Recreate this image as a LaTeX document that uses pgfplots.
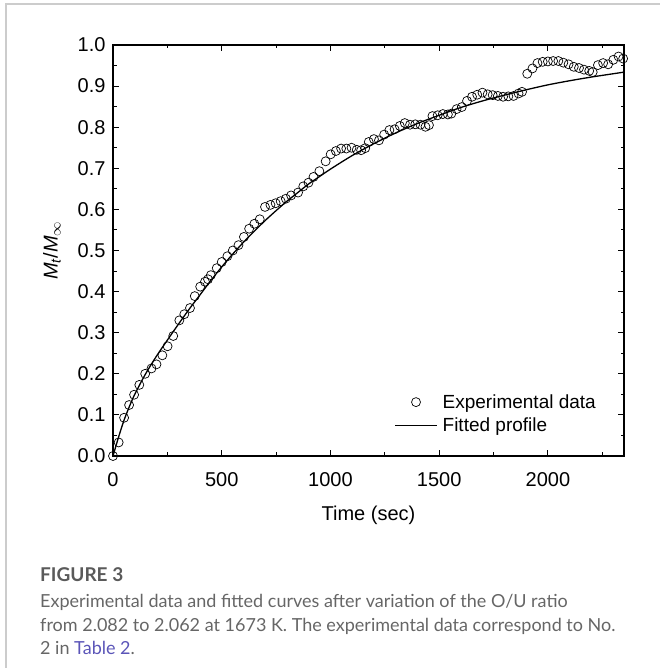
\documentclass[border=0pt]{standalone}
\usepackage{pgfplots}
\pgfplotsset{compat=1.18}
\usepackage{fontspec}
\setmainfont{Liberation Sans}
\newfontfamily\capfont{Lato}
\definecolor{capgray}{HTML}{666666}
\definecolor{capdark}{HTML}{5A5A5A}
\definecolor{linkblue}{HTML}{5B55B8}
\definecolor{framegray}{HTML}{CCCCCC}
\pgfplotsset{
  circlegend/.style={legend image code/.code={\draw[mark repeat=2,mark phase=2,##1] plot coordinates {(0pt,0pt)(21pt,0pt)(42pt,0pt)};}},
  linelegend/.style={legend image code/.code={\draw[##1] (0pt,0pt) -- (42pt,0pt);}},
}
\begin{document}
\begin{tikzpicture}[x=1pt,y=1pt]
\path[use as bounding box] (0,0) rectangle (660,668);
\draw[framegray, line width=1.2pt] (6,0) -- (6,664) -- (660,664);
\begin{axis}[
  at={(113pt,212pt)}, anchor=south west,
  scale only axis, width=511pt, height=411pt,
  xmin=0, xmax=2350, ymin=0, ymax=1.0,
  xtick={0,500,1000,1500,2000},
  minor xtick={250,750,1250,1750,2250},
  ytick={0,0.1,0.2,0.3,0.4,0.5,0.6,0.7,0.8,0.9,1.0},
  minor ytick={0.05,0.15,0.25,0.35,0.45,0.55,0.65,0.75,0.85,0.95},
  tick align=inside,
  major tick length=6pt, minor tick length=3.5pt,
  every tick/.style={black, line width=1pt},
  axis line style={line width=1.2pt},
  /pgf/number format/assume math mode=true,
  yticklabel style={/pgf/number format/fixed, /pgf/number format/fixed zerofill, /pgf/number format/precision=1, xshift=-4pt},
  xticklabel style={/pgf/number format/1000 sep={}, yshift=-13pt},
  ticklabel style={font=\fontsize{20}{24}\selectfont},
  label style={font=\fontsize{20}{24}\selectfont},
  xlabel={Time (sec)},
  ylabel={\textit{M}\textsubscript{\textit{t}}/\textit{M}\textsubscript{$\infty$}},
  xlabel style={yshift=-12pt},
  ylabel style={yshift=10pt},
  legend style={draw=none, fill=none, at={(0.955,0.155)}, anchor=north east,
    font=\fontsize{19}{23}\selectfont, row sep=4pt, inner sep=0pt,
    nodes={inner xsep=5pt}},
  legend cell align=left,
  clip=true,
]
\addplot[only marks, mark=o, mark size=4.5pt, black, line width=0.7pt, circlegend]
  table[row sep=\\] {
t v\\
0 0.0\\
26 0.033\\
51 0.093\\
74 0.124\\
97 0.149\\
121 0.173\\
148 0.200\\
177 0.213\\
200 0.223\\
227 0.245\\
251 0.267\\
277 0.292\\
305 0.330\\
328 0.345\\
354 0.360\\
376 0.389\\
401 0.412\\
423 0.424\\
437 0.430\\
450 0.440\\
477 0.457\\
500 0.472\\
526 0.486\\
551 0.500\\
577 0.513\\
602 0.533\\
626 0.553\\
650 0.565\\
675 0.576\\
699 0.606\\
724 0.611\\
748 0.615\\
771 0.620\\
795 0.626\\
819 0.634\\
851 0.641\\
875 0.656\\
899 0.665\\
922 0.679\\
949 0.693\\
978 0.717\\
1001 0.734\\
1025 0.742\\
1049 0.748\\
1073 0.748\\
1097 0.750\\
1121 0.745\\
1141 0.744\\
1160 0.749\\
1176 0.764\\
1200 0.771\\
1223 0.768\\
1247 0.782\\
1271 0.793\\
1295 0.795\\
1319 0.803\\
1342 0.810\\
1366 0.806\\
1390 0.807\\
1414 0.806\\
1437 0.801\\
1453 0.805\\
1469 0.827\\
1493 0.829\\
1517 0.832\\
1540 0.831\\
1556 0.833\\
1580 0.844\\
1604 0.849\\
1628 0.864\\
1651 0.874\\
1675 0.879\\
1699 0.884\\
1723 0.880\\
1746 0.878\\
1770 0.876\\
1794 0.874\\
1818 0.875\\
1842 0.876\\
1865 0.882\\
1881 0.886\\
1905 0.930\\
1929 0.943\\
1952 0.956\\
1976 0.959\\
2000 0.960\\
2024 0.961\\
2048 0.961\\
2071 0.957\\
2095 0.953\\
2119 0.947\\
2143 0.944\\
2166 0.940\\
2190 0.937\\
2206 0.934\\
2230 0.951\\
2254 0.956\\
2277 0.953\\
2301 0.964\\
2325 0.972\\
2346 0.967\\
};
\addlegendentry{Experimental data}
\addplot[black, line width=1.3pt, smooth, no marks, linelegend]
  table[row sep=\\] {
t v\\
0 0.0\\
10 0.018\\
25 0.045\\
50 0.086\\
75 0.120\\
100 0.150\\
150 0.200\\
200 0.243\\
250 0.282\\
300 0.320\\
350 0.357\\
400 0.392\\
450 0.427\\
500 0.460\\
550 0.491\\
600 0.520\\
650 0.547\\
700 0.573\\
750 0.597\\
800 0.620\\
850 0.641\\
900 0.662\\
950 0.680\\
1000 0.698\\
1100 0.731\\
1200 0.760\\
1300 0.786\\
1400 0.809\\
1500 0.829\\
1600 0.848\\
1700 0.864\\
1800 0.878\\
1900 0.891\\
2000 0.903\\
2100 0.913\\
2200 0.922\\
2300 0.930\\
2350 0.934\\
};
\addlegendentry{Fitted profile}
\end{axis}
\node[anchor=base west, inner sep=0pt, text=capdark, font=\capfont\bfseries\fontsize{19}{23}\selectfont] at (40,86) {FIGURE 3};
\node[anchor=base west, inner sep=0pt, text=capgray, font=\capfont\fontsize{18}{23}\selectfont] at (40,60) {Experimental data and fitted curves after variation of the O/U ratio};
\node[anchor=base west, inner sep=0pt, text=capgray, font=\capfont\fontsize{18}{23}\selectfont] at (40,36) {from 2.082 to 2.062 at 1673 K. The experimental data correspond to No.};
\node[anchor=base west, inner sep=0pt, text=capgray, font=\capfont\fontsize{18}{23}\selectfont] at (40,13) {2 in \textcolor{linkblue}{Table 2}.};
\end{tikzpicture}
\end{document}
